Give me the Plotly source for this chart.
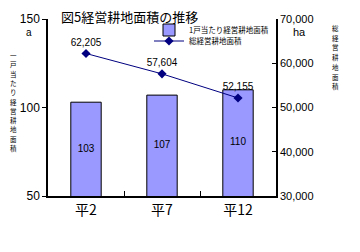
import plotly.graph_objects as go

categories = ["平2", "平7", "平12"]
per_household = [103, 107, 110]
total_area = [62205, 57604, 52155]
total_labels = ["62,205", "57,604", "52,155"]

Y1_MIN, Y1_MAX = 50, 150
Y2_MIN, Y2_MAX = 30000, 70000

FONT = "Liberation Sans, Arial, sans-serif"
JFONT = "Noto Sans CJK JP, sans-serif"

L, R, T, B = 48, 84, 19, 56
W, H = 360, 252
PW, PH = W - L - R, H - T - B


def py2paper(py):
    return (T + PH - py) / PH


def px2paper(px):
    return (px - L) / PW


fig = go.Figure()
fig.add_trace(go.Bar(
    x=categories, y=per_household, name="1戸当たり経営耕地面積",
    marker=dict(color="#9999FF", line=dict(color="black", width=1)),
    width=0.4, yaxis="y", legend="legend",
))
# value labels centred in the visible part of each bar
fig.add_trace(go.Scatter(
    x=categories, y=[(Y1_MIN + v) / 2 for v in per_household], mode="text",
    text=[str(v) for v in per_household], textfont=dict(size=10, color="black", family=FONT),
    showlegend=False, yaxis="y", hoverinfo="skip",
))
fig.add_trace(go.Scatter(
    x=categories, y=total_area, name="総経営耕地面積", mode="lines+markers+text",
    line=dict(color="#000080", width=1), marker=dict(symbol="diamond", size=7, color="#000080"),
    text=total_labels, textposition="top center",
    textfont=dict(size=10, color="black", family=FONT), yaxis="y2", cliponaxis=False,
    legend="legend2",
))

legend_common = dict(xanchor="left", yanchor="middle", bgcolor="rgba(0,0,0,0)",
                     font=dict(size=7.5, family=JFONT), itemwidth=30, tracegroupgap=0)

fig.update_layout(
    width=W, height=H, margin=dict(l=L, r=R, t=T, b=B),
    paper_bgcolor="white", plot_bgcolor="white", showlegend=True,
    font=dict(family=FONT, color="black"),
    xaxis=dict(showline=True, linecolor="black", linewidth=1.5, ticks="inside",
               tickson="boundaries", ticklen=5, tickcolor="black",
               tickfont=dict(size=14, family=JFONT), showgrid=False),
    yaxis=dict(range=[Y1_MIN, Y1_MAX], dtick=50, showline=True, linecolor="black", linewidth=1.5,
               ticks="outside", ticklen=4, tickcolor="black", showgrid=False,
               tickfont=dict(size=12), zeroline=False),
    yaxis2=dict(range=[Y2_MIN, Y2_MAX], dtick=10000, overlaying="y", side="right",
                showline=True, linecolor="black", linewidth=1.5, ticks="inside", ticklen=4,
                tickcolor="black", showgrid=False, tickformat=",d", tickfont=dict(size=11),
                zeroline=False),
    legend=dict(x=px2paper(149), y=py2paper(30), **legend_common),
    legend2=dict(x=px2paper(149), y=py2paper(41), **legend_common),
)


def add_text(text, px, py, size, family=FONT, xanchor="center"):
    fig.add_annotation(text=text, x=px2paper(px), y=py2paper(py), xref="paper", yref="paper",
                       xanchor=xanchor, yanchor="middle", showarrow=False,
                       font=dict(size=size, family=family, color="black"))


add_text("図5経営耕地面積の推移", 59, 16, 13, JFONT, "left")
add_text("a", 29, 32, 10)
add_text("ha", 299, 32, 11)
for i, ch in enumerate("一戸当たり経営耕地面積"):
    add_text(ch, 13, 55 + i * 9.3, 6.5, JFONT)
for i, ch in enumerate("総経営耕地面積"):
    add_text(ch, 335, 28 + i * 9.7, 6.5, JFONT)

fig.write_html("out.html")
